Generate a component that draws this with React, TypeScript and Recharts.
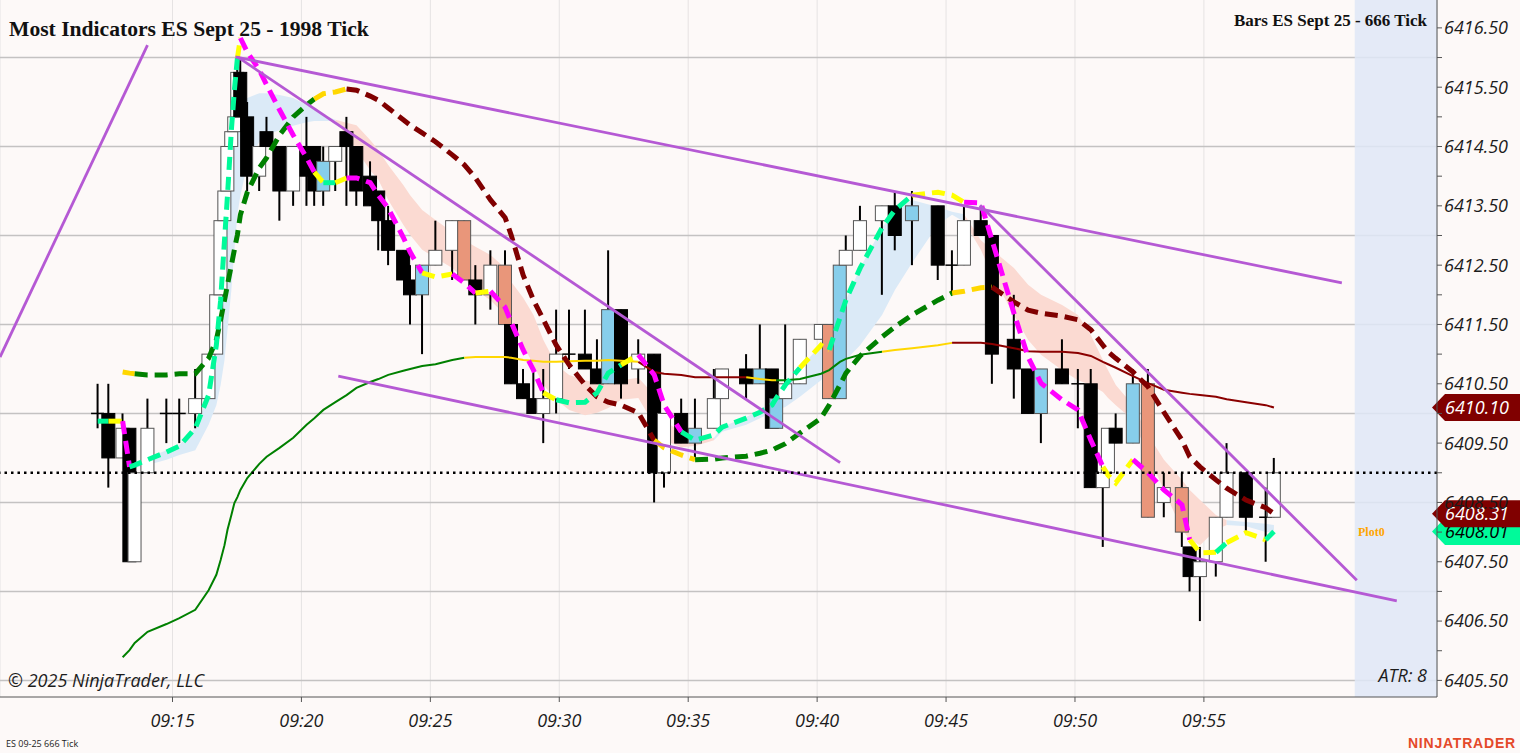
import React from 'react';
import {
  ComposedChart, Bar, Line, Area, XAxis, YAxis, CartesianGrid, ReferenceLine, ReferenceArea,
} from 'recharts';

// 666 tick bars: [time, open, high, low, close, kind]  kind: w=white up, k=black down, b=blue, s=salmon
const candles: [string, number, number, number, number, string][] = [
  ['09:12:06', 6410.0, 6410.5, 6409.75, 6410.0, 'w'],
  ['09:12:31', 6410.0, 6410.5, 6408.75, 6409.25, 'k'],
  ['09:13:04', 6409.25, 6410.0, 6409.25, 6409.75, 'w'],
  ['09:13:20', 6409.75, 6409.75, 6407.5, 6407.5, 'k'],
  ['09:13:32', 6407.5, 6409.0, 6407.5, 6409.0, 'w'],
  ['09:14:02', 6409.0, 6410.25, 6409.0, 6409.75, 'w'],
  ['09:14:46', 6410.0, 6410.25, 6409.5, 6410.0, 'w'],
  ['09:15:16', 6410.0, 6410.25, 6409.5, 6410.0, 'w'],
  ['09:15:53', 6410.0, 6410.75, 6409.75, 6410.25, 'w'],
  ['09:16:24', 6410.25, 6411.0, 6410.25, 6411.0, 'w'],
  ['09:16:42', 6411.0, 6412.0, 6411.0, 6412.0, 'w'],
  ['09:16:52', 6412.0, 6413.25, 6412.0, 6413.25, 'w'],
  ['09:17:01', 6413.25, 6413.75, 6413.25, 6413.75, 'w'],
  ['09:17:08', 6413.75, 6414.5, 6413.75, 6414.5, 'w'],
  ['09:17:17', 6414.5, 6414.75, 6414.5, 6414.75, 'w'],
  ['09:17:24', 6414.75, 6415.0, 6414.75, 6415.0, 'w'],
  ['09:17:31', 6415.0, 6416.0, 6415.0, 6415.75, 'w'],
  ['09:17:38', 6415.75, 6416.0, 6415.0, 6415.0, 'k'],
  ['09:17:54', 6415.0, 6415.25, 6413.75, 6414.0, 'k'],
  ['09:18:22', 6414.0, 6414.5, 6413.75, 6414.5, 'w'],
  ['09:18:39', 6414.75, 6415.0, 6414.5, 6414.5, 'k'],
  ['09:19:09', 6414.5, 6414.5, 6413.25, 6413.75, 'k'],
  ['09:19:41', 6413.75, 6414.5, 6413.5, 6414.5, 'w'],
  ['09:20:12', 6414.5, 6415.0, 6413.5, 6414.0, 'k'],
  ['09:20:30', 6414.5, 6414.5, 6413.5, 6413.75, 'k'],
  ['09:20:51', 6414.25, 6414.5, 6413.5, 6413.75, 'b'],
  ['09:21:19', 6414.25, 6414.5, 6413.75, 6414.5, 'w'],
  ['09:21:45', 6414.75, 6415.0, 6413.5, 6414.5, 'k'],
  ['09:22:08', 6414.5, 6414.5, 6413.5, 6413.75, 'k'],
  ['09:22:40', 6414.0, 6414.25, 6413.5, 6413.5, 'k'],
  ['09:22:59', 6413.75, 6413.75, 6412.75, 6413.25, 'k'],
  ['09:23:22', 6413.25, 6413.5, 6412.5, 6412.75, 'k'],
  ['09:23:57', 6412.75, 6412.75, 6412.25, 6412.25, 'k'],
  ['09:24:13', 6412.25, 6412.5, 6411.5, 6412.0, 'k'],
  ['09:24:41', 6412.0, 6412.5, 6411.0, 6412.5, 'b'],
  ['09:25:12', 6412.5, 6413.25, 6412.5, 6412.75, 'w'],
  ['09:25:51', 6412.75, 6413.25, 6412.25, 6413.25, 'w'],
  ['09:26:19', 6413.25, 6413.25, 6412.25, 6412.25, 's'],
  ['09:26:45', 6412.25, 6412.5, 6411.5, 6412.0, 'k'],
  ['09:27:20', 6412.0, 6412.75, 6411.75, 6412.5, 'w'],
  ['09:27:54', 6412.5, 6412.75, 6411.5, 6411.5, 's'],
  ['09:28:08', 6411.5, 6411.5, 6410.5, 6410.5, 'k'],
  ['09:28:36', 6410.5, 6410.75, 6410.25, 6410.25, 'k'],
  ['09:29:00', 6410.25, 6410.75, 6410.0, 6410.0, 'k'],
  ['09:29:23', 6410.0, 6410.75, 6409.5, 6410.25, 'w'],
  ['09:29:53', 6410.25, 6411.75, 6410.0, 6411.0, 'w'],
  ['09:30:23', 6411.0, 6411.75, 6410.75, 6411.0, 'w'],
  ['09:31:00', 6411.0, 6411.75, 6410.75, 6410.75, 'k'],
  ['09:31:28', 6410.75, 6411.25, 6410.5, 6410.5, 'k'],
  ['09:31:54', 6410.5, 6412.75, 6410.5, 6411.75, 'b'],
  ['09:32:24', 6411.75, 6411.75, 6410.25, 6410.5, 'k'],
  ['09:33:04', 6410.75, 6411.25, 6410.5, 6411.0, 'w'],
  ['09:33:41', 6411.0, 6411.0, 6408.5, 6409.0, 'k'],
  ['09:34:04', 6409.0, 6410.0, 6408.75, 6410.0, 'w'],
  ['09:34:44', 6410.0, 6410.25, 6409.5, 6409.5, 'k'],
  ['09:35:16', 6409.75, 6410.25, 6409.25, 6409.5, 'b'],
  ['09:36:00', 6409.75, 6410.75, 6409.75, 6410.25, 'w'],
  ['09:36:19', 6410.25, 6410.75, 6410.25, 6410.75, 'w'],
  ['09:37:15', 6410.75, 6411.0, 6410.25, 6410.5, 'k'],
  ['09:37:47', 6410.5, 6411.5, 6410.5, 6410.75, 'b'],
  ['09:38:15', 6410.75, 6410.75, 6409.75, 6409.75, 'k'],
  ['09:38:25', 6409.75, 6410.25, 6409.75, 6410.25, 'b'],
  ['09:38:46', 6410.25, 6411.5, 6410.25, 6410.5, 'w'],
  ['09:39:20', 6410.5, 6411.25, 6410.5, 6411.25, 'w'],
  ['09:40:09', 6411.25, 6411.5, 6411.25, 6411.5, 'w'],
  ['09:40:28', 6411.5, 6411.5, 6410.25, 6410.25, 's'],
  ['09:40:53', 6410.25, 6412.5, 6410.25, 6412.5, 'b'],
  ['09:41:07', 6412.5, 6413.0, 6412.5, 6412.75, 'w'],
  ['09:41:40', 6412.75, 6413.5, 6412.75, 6413.25, 'w'],
  ['09:42:31', 6413.25, 6413.5, 6412.0, 6413.5, 'w'],
  ['09:43:01', 6413.5, 6413.75, 6412.75, 6413.0, 'k'],
  ['09:43:41', 6413.25, 6413.75, 6412.5, 6413.5, 'b'],
  ['09:44:41', 6413.5, 6413.5, 6412.25, 6412.5, 'k'],
  ['09:45:14', 6412.5, 6412.75, 6412.0, 6412.5, 'w'],
  ['09:45:42', 6412.5, 6413.5, 6412.5, 6413.25, 'w'],
  ['09:46:21', 6413.25, 6413.5, 6413.0, 6413.0, 'k'],
  ['09:46:47', 6413.0, 6413.0, 6410.5, 6411.0, 'k'],
  ['09:47:38', 6411.25, 6412.0, 6410.25, 6410.75, 'k'],
  ['09:48:11', 6410.75, 6410.75, 6410.0, 6410.0, 'k'],
  ['09:48:41', 6410.0, 6410.75, 6409.5, 6410.75, 'b'],
  ['09:49:30', 6410.75, 6411.25, 6410.5, 6410.5, 'k'],
  ['09:50:07', 6410.5, 6410.75, 6409.75, 6410.5, 'w'],
  ['09:50:37', 6410.5, 6410.75, 6408.75, 6408.75, 'k'],
  ['09:51:05', 6408.75, 6409.0, 6407.75, 6409.0, 'w'],
  ['09:51:17', 6409.0, 6409.75, 6409.0, 6409.75, 'w'],
  ['09:51:35', 6409.75, 6410.0, 6409.5, 6409.5, 'k'],
  ['09:52:15', 6409.5, 6410.75, 6409.5, 6410.5, 'b'],
  ['09:52:50', 6410.5, 6410.75, 6408.25, 6408.25, 's'],
  ['09:53:27', 6408.5, 6409.0, 6408.25, 6408.75, 'w'],
  ['09:54:09', 6408.75, 6409.0, 6407.75, 6408.0, 's'],
  ['09:54:27', 6407.75, 6407.75, 6407.0, 6407.25, 'k'],
  ['09:54:51', 6407.25, 6407.75, 6406.5, 6407.5, 'w'],
  ['09:55:28', 6407.5, 6408.25, 6407.25, 6408.25, 'w'],
  ['09:55:53', 6408.25, 6409.5, 6408.25, 6409.0, 'w'],
  ['09:56:38', 6409.0, 6409.0, 6408.0, 6408.25, 'k'],
  ['09:57:24', 6408.25, 6408.75, 6407.5, 6408.25, 'w'],
  ['09:57:43', 6408.25, 6409.25, 6408.25, 6409.0, 'w'],
];

// fast dashed average, one value per bar; trend letter colours the segment ending at that bar
const fastLine = [
  6409.87, 6409.87, 6409.87, 6409.10, 6409.13, 6409.22, 6409.35, 6409.45, 6409.75, 6410.31,
  6411.15, 6411.91, 6412.92, 6413.68, 6414.78, 6415.45, 6415.99, 6416.33, 6416.09, 6415.79,
  6415.54, 6415.12, 6414.69, 6414.31, 6414.07, 6413.89, 6413.89, 6413.97, 6413.97, 6413.89,
  6413.68, 6413.46, 6412.97, 6412.72, 6412.37, 6412.30, 6412.35, 6412.20, 6412.03, 6412.06,
  6411.79, 6411.54, 6411.07, 6410.73, 6410.35, 6410.23, 6410.18, 6410.19, 6410.35, 6410.68,
  6410.82, 6410.99, 6410.65, 6410.14, 6409.69, 6409.55, 6409.64, 6409.77, 6409.92, 6410.02,
  6410.14, 6410.26, 6410.48, 6410.77, 6411.15, 6411.07, 6411.61, 6411.91, 6412.45, 6413.13,
  6413.43, 6413.68, 6413.73, 6413.68, 6413.56, 6413.55, 6412.92, 6411.69, 6410.95, 6410.51,
  6410.23, 6410.06, 6409.55, 6409.10, 6408.96, 6408.83, 6409.22, 6409.00, 6408.71, 6408.46,
  6407.87, 6407.65, 6407.66, 6407.82, 6407.99, 6407.87, 6408.01,
];
const fastTrend = 'ggymgggggg' + 'gggggggymm' + 'mmmmmygymm' + 'mmmmmyymmy' + 'mmmmmygggg'
  + 'gymmmggggg' + 'ggggyygggg' + 'ggyyymmmmm' + 'mmmmyyymmm' + 'myygyyg';

// slow dashed average
const slowLine = [
  null, null, 6410.70, 6410.68, 6410.67, 6410.65, 6410.65, 6410.67, 6410.67, 6410.93,
  6411.24, 6411.58, 6411.91, 6412.17, 6412.50, 6412.76, 6413.01, 6413.35, 6413.73, 6414.14,
  6414.31, 6414.69, 6415.00, 6415.20, 6415.30, 6415.39, 6415.42, 6415.47, 6415.45, 6415.35,
  6415.28, 6415.15, 6414.95, 6414.86, 6414.73, 6414.58, 6414.36, 6414.19, 6413.97, 6413.60,
  6413.30, 6413.01, 6412.33, 6411.91, 6411.58, 6411.15, 6410.82, 6410.48, 6410.28, 6410.19,
  6410.14, 6410.01, 6409.55, 6409.42, 6409.30, 6409.22, 6409.23, 6409.25, 6409.28, 6409.33,
  6409.38, 6409.42, 6409.49, 6409.67, 6409.92, 6410.14, 6410.48, 6410.68, 6410.97, 6411.29,
  6411.46, 6411.66, 6411.91, 6412.03, 6412.06, 6412.12, 6412.13, 6411.88, 6411.74, 6411.69,
  6411.64, 6411.58, 6411.41, 6411.15, 6411.04, 6410.93, 6410.70, 6410.45, 6410.02, 6409.55,
  6409.27, 6409.10, 6408.88, 6408.74, 6408.54, 6408.41, 6408.31,
];
const slowTrend = '--yyyggggg' + 'gggggggggg' + 'gggggyyymm' + 'mmmmmmmmmm' + 'mmmmmmmmmm'
  + 'mmmyyygggg' + 'gggggggggg' + 'ggggyyymmm' + 'mmmmmmmmmm' + 'mmmmmmm';

// solid long average
const maLine = [
  null, null, 6405.89, 6406.01, 6406.13, 6406.32, 6406.45, 6406.55, 6406.69, 6407.02,
  6407.28, 6407.53, 6407.78, 6408.04, 6408.29, 6408.49, 6408.59, 6408.71, 6408.91, 6409.15,
  6409.27, 6409.42, 6409.59, 6409.81, 6409.92, 6410.06, 6410.19, 6410.31, 6410.43, 6410.53,
  6410.58, 6410.65, 6410.72, 6410.75, 6410.80, 6410.83, 6410.90, 6410.94, 6410.95, 6410.95,
  6410.95, 6410.94, 6410.90, 6410.89, 6410.87, 6410.87, 6410.88, 6410.89, 6410.89, 6410.90,
  6410.89, 6410.87, 6410.70, 6410.67, 6410.65, 6410.61, 6410.61, 6410.61, 6410.61, 6410.58,
  6410.56, 6410.56, 6410.56, 6410.58, 6410.67, 6410.73, 6410.87, 6410.92, 6410.99, 6411.04,
  6411.07, 6411.10, 6411.15, 6411.19, 6411.19, 6411.19, 6411.17, 6411.10, 6411.05, 6411.04,
  6411.04, 6411.02, 6410.97, 6410.87, 6410.83, 6410.77, 6410.63, 6410.51, 6410.40, 6410.35,
  6410.33, 6410.31, 6410.28, 6410.24, 6410.19, 6410.14, 6410.10,
];
const maTrend = '--gggggggg' + 'gggggggggg' + 'gggggggggg' + 'ggggggggyy' + 'yyyyyyyyyy'
  + 'yymmmmmmmy' + 'yygggggggg' + 'yyyymmmmmm' + 'mmmmmmmmmm' + 'mmmmmmm';

// shaded ribbon edges: u = rising (blue), d = falling (salmon)
const ribbonHigh = [
  null, null, null, 6409.10, 6409.13, 6409.25, 6409.38, 6409.47, 6409.75, 6410.31,
  6411.15, 6411.91, 6412.84, 6413.60, 6414.44, 6414.86, 6415.03, 6415.15, 6415.32, 6415.40,
  6415.40, 6415.37, 6415.32, 6415.20, 6415.12, 6415.03, 6414.95, 6414.90, 6414.86, 6414.61,
  6414.44, 6414.19, 6413.85, 6413.68, 6413.43, 6413.26, 6413.06, 6412.92, 6412.81, 6412.67,
  6412.45, 6412.22, 6411.95, 6411.66, 6411.24, 6410.82, 6410.65, 6410.56, 6410.51, 6410.53,
  6410.56, 6410.60, 6410.31, 6409.89, 6409.67, 6409.55, 6409.59, 6409.77, 6409.94, 6410.06,
  6410.18, 6410.26, 6410.48, 6410.77, 6411.15, 6411.15, 6411.61, 6411.91, 6412.45, 6413.13,
  6413.43, 6413.60, 6413.48, 6413.40, 6413.36, 6412.92, 6412.76, 6412.45, 6412.17, 6412.00,
  6411.83, 6411.66, 6411.32, 6410.90, 6410.73, 6410.48, 6410.14, 6409.64, 6409.22, 6408.88,
  6408.71, 6408.54, 6408.29, 6408.20, 6408.17, 6408.14, 6408.12,
];
const ribbonLow = [
  null, null, null, 6409.08, 6409.08, 6409.13, 6409.22, 6409.30, 6409.38, 6409.81,
  6410.14, 6410.48, 6410.90, 6411.41, 6412.08, 6412.76, 6413.35, 6413.68, 6414.19, 6414.58,
  6414.69, 6414.78, 6414.85, 6414.91, 6414.93, 6414.93, 6414.93, 6414.69, 6414.44, 6414.10,
  6413.94, 6413.60, 6413.18, 6413.01, 6412.76, 6412.62, 6412.45, 6412.28, 6412.08, 6411.91,
  6411.66, 6411.49, 6411.15, 6410.82, 6410.48, 6410.23, 6410.06, 6409.97, 6410.01, 6410.09,
  6410.23, 6410.26, 6409.81, 6409.55, 6409.43, 6409.45, 6409.55, 6409.69, 6409.81, 6409.92,
  6410.02, 6410.06, 6410.11, 6410.28, 6410.56, 6410.70, 6410.82, 6410.90, 6411.15, 6411.66,
  6412.08, 6412.54, 6413.18, 6413.35, 6413.23, 6412.76, 6412.33, 6411.66, 6411.24, 6410.99,
  6410.73, 6410.56, 6410.48, 6410.36, 6410.26, 6410.14, 6409.89, 6409.30, 6408.71, 6408.04,
  6407.87, 6407.78, 6408.04, 6408.12, 6408.10, 6408.00, 6408.00,
];
const ribbonTrend = '---uuuuuuu' + 'uuuuuuuuuu' + 'uuuuuuuddd' + 'dddddddddd' + 'dddddddddd'
  + 'ddddddduuu' + 'uuuuuuuuuu' + 'uuuuuddddd' + 'dddddddddd' + 'dddduuu';

// drawn trend lines: [[time(min after 09:00), price], [time, price]]
const trendLines: [number, number][][] = [
  [[8.31, 6410.95], [14.03, 6416.21]],
  [[17.44, 6416.01], [60.35, 6412.20]],
  [[17.52, 6416.01], [40.89, 6409.17]],
  [[21.43, 6410.63], [62.48, 6406.84]],
  [[46.32, 6413.51], [60.93, 6407.19]],
];

const timeTicks = [15, 20, 25, 30, 35, 40, 45, 50, 55];
const priceTicks = [
  6405.5, 6406, 6406.5, 6407, 6407.5, 6408, 6408.5, 6409, 6409.5, 6410, 6410.5, 6411,
  6411.5, 6412, 6412.5, 6413, 6413.5, 6414, 6414.5, 6415, 6415.5, 6416, 6416.5,
];
const gridLevels = [6405.5, 6407, 6408.5, 6410, 6411.5, 6413, 6414.5, 6416];
const futureZoneStart = 60.85;

const fastColors: Record<string, string> = { g: '#00fa9a', m: '#ff00ff', y: '#ffff00' };
const slowColors: Record<string, string> = { g: '#008000', m: '#800000', y: '#ffd700' };
const maColors: Record<string, string> = { g: '#008000', m: '#8b0000', y: '#ffd700' };
const ribbonColors: Record<string, string> = { u: '#dbeaf7', d: '#fbdad2' };
const bodyColors: Record<string, string> = { w: '#ffffff', k: '#000000', b: '#87ceeb', s: '#e9967a' };

const toMinutes = (s: string) => {
  const [h, m, sec] = s.split(':').map(Number);
  return (h - 9) * 60 + m + sec / 60;
};

const rows: any[] = candles.map(([time, open, high, low, close, kind]) => ({
  t: toMinutes(time), open, high, low, close, kind,
}));

type Run = { key: string; color: string };

// split a series into runs of one colour, each run gets its own key in the rows
function addRuns(prefix: string, values: (number | null)[], trend: string, value: (i: number) => any): Run[] {
  const runs: Run[] = [];
  let cur: { key: string; color: string; end: number } | null = null;
  for (let i = 1; i < values.length; i++) {
    if (values[i - 1] == null || values[i] == null) { cur = null; continue; }
    const c = trend[i];
    if (cur && cur.color === c && cur.end === i - 1) {
      cur.end = i;
      rows[i][cur.key] = value(i);
    } else {
      cur = { key: `${prefix}${runs.length}`, color: c, end: i };
      runs.push(cur);
      rows[i - 1][cur.key] = value(i - 1);
      rows[i][cur.key] = value(i);
    }
  }
  return runs;
}

const ribbonRuns = addRuns('rb', ribbonHigh, ribbonTrend, (i) => [ribbonLow[i], ribbonHigh[i]]);
const maRuns = addRuns('ma', maLine, maTrend, (i) => maLine[i]);
const slowRuns = addRuns('sl', slowLine, slowTrend, (i) => slowLine[i]);
const fastRuns = addRuns('fa', fastLine, fastTrend, (i) => fastLine[i]);

const lastClose = candles[candles.length - 1][4];
const axisFont = '"Open Sans", "Noto Sans", sans-serif';

const Candle = (props: any) => {
  const { x, y, width, height, payload } = props;
  if (x == null || y == null || !payload) return null;
  const cx = x + width / 2;
  const h = Math.abs(height);
  const top = Math.min(y, y + height);
  const span = payload.high - payload.low;
  const ppu = span > 0 ? h / span : 0;
  const yOf = (v: number) => top + (payload.high - v) * ppu;
  const yO = yOf(payload.open);
  const yC = yOf(payload.close);
  const half = 6.5;
  const outline = payload.kind === 'k' ? '#000000' : '#555555';
  return (
    <g>
      <line x1={cx} x2={cx} y1={top} y2={top + h} stroke="#000" strokeWidth={2} />
      {Math.abs(yO - yC) < 0.5 ? (
        <line x1={cx - half} x2={cx + half} y1={yO} y2={yO} stroke="#000" strokeWidth={1.5} />
      ) : (
        <rect x={cx - half} y={Math.min(yO, yC)} width={half * 2} height={Math.abs(yO - yC)}
          fill={bodyColors[payload.kind]} stroke={outline} strokeWidth={1} />
      )}
    </g>
  );
};

const TimeTick = (props: any) => {
  const { x, y, payload } = props;
  return (
    <text x={x} y={y} dy="0.71em" textAnchor="middle" fontSize={18} fontStyle="italic"
      fontFamily={axisFont} fill="#1c1c1c">
      {`09:${String(payload.value).padStart(2, '0')}`}
    </text>
  );
};

const PriceTick = (props: any) => {
  const { x, y, payload } = props;
  const v = payload.value as number;
  if (Math.round(v * 2) % 2 !== 1) return null;
  return (
    <text x={x} y={y} dy="0.355em" textAnchor="start" fontSize={18} fontStyle="italic"
      fontFamily={axisFont} fill="#1c1c1c">
      {v.toFixed(2)}
    </text>
  );
};

const priceTag = (value: number, fill: string, color: string, note?: string) => (props: any) => {
  const vb = props.viewBox;
  if (!vb) return null;
  const x0 = vb.x + vb.width;
  const y = vb.y;
  const hh = 13.5;
  return (
    <g>
      {note && (
        <text x={x0 - 79} y={y} dy="0.35em" fill="#ffa500" fontSize={12} fontWeight="bold"
          fontFamily='"Liberation Serif", serif'>{note}</text>
      )}
      <polygon points={`${x0 - 5},${y} ${x0 + 8},${y - hh} ${x0 + 83},${y - hh} ${x0 + 83},${y + hh} ${x0 + 8},${y + hh}`}
        fill={fill} />
      <text x={x0 + 8} y={y} dy="0.36em" fill={color} fontSize={18} fontStyle="italic" fontFamily={axisFont}>
        {value.toFixed(2)}
      </text>
    </g>
  );
};

export default function App() {
  return (
    <div style={{ position: 'absolute', left: 0, top: 0, width: 1520, height: 753, background: '#fdf9f8', overflow: 'hidden' }}>
      <ComposedChart width={1520} height={753} data={rows} margin={{ top: 0, right: 0, bottom: 0, left: 0 }}>
        <CartesianGrid horizontal={false} stroke="#e6e3e3" />
        <CartesianGrid vertical={false} horizontalValues={gridLevels} stroke="#c4c2c2" strokeWidth={1.5} />
        <XAxis dataKey="t" type="number" domain={[8.31, 64.04]} allowDataOverflow ticks={timeTicks} interval={0}
          height={56} tickSize={5} tickMargin={12} axisLine={{ stroke: '#555' }} tickLine={{ stroke: '#555' }}
          tick={<TimeTick />} />
        <YAxis orientation="right" width={83} domain={[6405.22, 6416.97]} allowDataOverflow ticks={priceTicks}
          interval={0} tickSize={5} tickMargin={2} axisLine={{ stroke: '#555' }} tickLine={{ stroke: '#555' }}
          tick={<PriceTick />} />
        <ReferenceArea x1={futureZoneStart} x2={64.04} fill="#dfe8f7" fillOpacity={0.85} stroke="none" />

        {ribbonRuns.map((r) => (
          <Area key={r.key} dataKey={r.key} type="linear" stroke="none" fill={ribbonColors[r.color]} fillOpacity={1}
            connectNulls={false} dot={false} activeDot={false} isAnimationActive={false} />
        ))}

        <Bar dataKey={(d: any) => [d.low, d.high]} barSize={13} shape={Candle} isAnimationActive={false} />

        {maRuns.map((r) => (
          <Line key={r.key} dataKey={r.key} type="linear" stroke={maColors[r.color]} strokeWidth={2}
            dot={false} activeDot={false} connectNulls={false} isAnimationActive={false} />
        ))}
        {slowRuns.map((r) => (
          <Line key={r.key} dataKey={r.key} type="linear" stroke={slowColors[r.color]} strokeWidth={5}
            strokeDasharray="13 7" dot={false} activeDot={false} connectNulls={false} isAnimationActive={false} />
        ))}
        {fastRuns.map((r) => (
          <Line key={r.key} dataKey={r.key} type="linear" stroke={fastColors[r.color]} strokeWidth={5}
            strokeDasharray="13 7" dot={false} activeDot={false} connectNulls={false} isAnimationActive={false} />
        ))}

        {trendLines.map((seg, i) => (
          <ReferenceLine key={`tl${i}`} segment={[{ x: seg[0][0], y: seg[0][1] }, { x: seg[1][0], y: seg[1][1] }]}
            stroke="#b559d4" strokeWidth={2.8} ifOverflow="visible" />
        ))}
        <ReferenceLine y={lastClose} stroke="#000" strokeWidth={2.5} strokeDasharray="2.5 4" />

        <ReferenceLine y={fastLine[fastLine.length - 1]} strokeOpacity={0}
          label={priceTag(fastLine[fastLine.length - 1], '#00fa9a', '#000', 'Plot0')} />
        <ReferenceLine y={slowLine[slowLine.length - 1] as number} strokeOpacity={0}
          label={priceTag(slowLine[slowLine.length - 1] as number, '#800000', '#fff')} />
        <ReferenceLine y={maLine[maLine.length - 1] as number} strokeOpacity={0}
          label={priceTag(maLine[maLine.length - 1] as number, '#800000', '#fff')} />
      </ComposedChart>

      <svg width={1520} height={753} style={{ position: 'absolute', left: 0, top: 0, pointerEvents: 'none' }}>
        <text x={9} y={36} fontSize={21.6} fontWeight="bold" fontFamily='"Liberation Serif", serif' fill="#111">
          Most Indicators ES Sept 25 - 1998 Tick
        </text>
        <text x={1427} y={26} textAnchor="end" fontSize={17} fontWeight="bold" fontFamily='"Liberation Serif", serif' fill="#111">
          Bars ES Sept 25 - 666 Tick
        </text>
        <text x={8} y={687} fontSize={18} fontStyle="italic" fontFamily={axisFont} fill="#1c1c1c">
          © 2025 NinjaTrader, LLC
        </text>
        <text x={1427} y={682} textAnchor="end" fontSize={18} fontStyle="italic" fontFamily={axisFont} fill="#1c1c1c">
          ATR: 8
        </text>
        <text x={6} y={747} fontSize={9} fontFamily={axisFont} fill="#1c1c1c">ES 09-25 666 Tick</text>
        <text x={1516} y={748} textAnchor="end" fontSize={14} fontWeight="bold" letterSpacing={0.8}
          fontFamily='"Liberation Sans", Arial, sans-serif' fill="#e4492a">NINJATRADER</text>
      </svg>
    </div>
  );
}
